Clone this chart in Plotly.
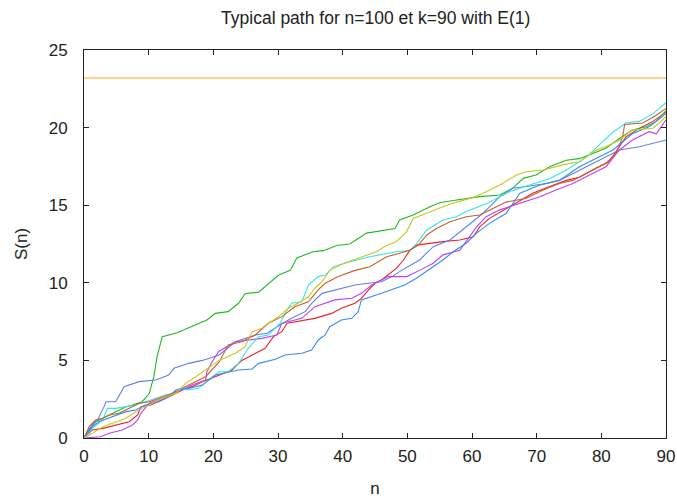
import plotly.graph_objects as go

# ---- data ----
red_x = [0, 1.3, 2.9, 4.9, 7, 8.3, 8.8, 10.3, 12.1, 13.7, 15.2, 16.7, 18.3, 20.3, 22.9, 24.4, 26, 28, 29.3, 30.6, 31.4, 33.1, 35.7, 38.3, 39.8, 41.9, 42.9, 44, 45, 46, 47, 48.3, 49.4, 50.4, 51.4, 53.5, 55.5, 58.1, 60.2, 61.2, 62.7, 65.8, 67.4, 69.4, 72, 74.6, 76.6, 79.2, 81.2, 82.8, 83.8, 85.9, 88, 90]
red_y = [0, 0.52, 0.62, 0.84, 1.05, 1.48, 2.02, 2.13, 2.45, 2.77, 3.09, 3.31, 3.63, 3.95, 4.38, 5.0, 5.35, 5.78, 6.53, 6.85, 7.39, 7.5, 7.71, 8.03, 8.36, 8.68, 9.0, 9.54, 9.97, 10.18, 10.5, 10.93, 11.47, 12.1, 12.43, 12.55, 12.65, 12.76, 12.97, 13.6, 14.15, 14.9, 15.3, 15.77, 16.2, 16.6, 16.8, 17.4, 17.8, 18.77, 19.4, 19.96, 20.4, 21.0]

green_x = [0, 0.8, 1.8, 2.9, 4.9, 6.5, 7.5, 9, 10.1, 10.8, 11.3, 11.9, 12.1, 14.4, 19, 20.3, 22.3, 23.9, 24.9, 27, 29, 30.1, 31.9, 32.9, 35.4, 37, 39.1, 41.1, 43.7, 48.1, 48.8, 50.9, 53.5, 55, 57.6, 61.2, 64.3, 66.3, 67.9, 69.9, 72, 74.6, 76.6, 78.7, 80.7, 82.8, 84.8, 86.9, 88.5, 90]
green_y = [0, 0.52, 1.05, 1.27, 1.7, 2.02, 2.13, 2.34, 2.88, 3.95, 5.24, 6.3, 6.53, 6.78, 7.6, 8.03, 8.14, 8.68, 9.3, 9.4, 10.07, 10.5, 10.8, 11.6, 12.0, 12.07, 12.4, 12.5, 13.2, 13.5, 14.05, 14.37, 14.9, 15.16, 15.33, 15.55, 15.66, 16.09, 16.73, 16.95, 17.48, 17.9, 18.0, 18.35, 18.67, 19.3, 19.85, 20.06, 20.4, 21.1]

blue_x = [0, 0.5, 1.3, 2.1, 3.1, 3.4, 4.9, 6.2, 8.5, 11.1, 13.1, 13.9, 16.2, 18.3, 20.9, 23.4, 26.5, 28.3, 30.3, 32.1, 34.2, 35.2, 36.8, 38.8, 41.9, 43.9, 46, 47.6, 49.1, 51.9, 54, 56.6, 59.1, 61.7, 64.3, 66.3, 68.4, 71.5, 73.5, 76.6, 79.7, 82.8, 85.9, 88, 90]
blue_y = [0, 0.41, 0.84, 1.16, 2.02, 2.34, 2.34, 3.31, 3.63, 3.74, 4.06, 4.49, 4.81, 5.0, 5.35, 6.2, 6.64, 6.75, 7.28, 7.71, 8.14, 8.68, 9.32, 9.54, 9.86, 9.97, 10.07, 10.4, 10.8, 11.47, 12.33, 12.76, 13.6, 14.48, 15.55, 16.09, 16.2, 16.4, 16.6, 17.27, 17.9, 18.56, 18.77, 19.0, 19.2]

magenta_x = [0, 2.6, 3.9, 5.9, 7.5, 8.3, 8.8, 10.1, 12.1, 13.7, 15.2, 16.7, 18.8, 19.0, 19.8, 20.8, 23.4, 25.4, 27.5, 29.8, 30.6, 33.7, 35.7, 38.8, 41.4, 42.9, 44.5, 47, 49.9, 51.9, 54, 55.5, 58.1, 60.7, 62.2, 64.3, 67.4, 70.5, 73, 75.6, 78.7, 80.7, 82.8, 84.8, 87.4, 88.5, 90]
magenta_y = [0, 0.08, 0.3, 0.52, 0.84, 1.16, 1.59, 2.24, 2.56, 2.88, 3.09, 3.41, 3.74, 4.27, 4.9, 5.56, 6.2, 6.3, 6.42, 6.64, 7.39, 7.71, 8.46, 8.9, 9.0, 9.32, 9.86, 10.4, 10.4, 10.8, 11.26, 11.8, 12.1, 13.6, 14.26, 14.7, 15.1, 15.55, 15.98, 16.4, 17.06, 17.48, 18.56, 19.2, 19.74, 19.6, 20.5]

cyan_x = [0, 1.3, 2.9, 3.6, 4.9, 6.5, 8, 9.5, 11.1, 12.6, 14.2, 14.7, 16.2, 17.7, 19.3, 20.9, 22.3, 23.9, 25.4, 27, 28.5, 30.3, 31.4, 32.1, 33.7, 34.7, 36.2, 37.3, 38.6, 41.1, 44.2, 48.3, 50.4, 51.4, 53, 55.5, 57.6, 59.1, 62.2, 65.8, 68.9, 72, 74.6, 77.7, 80.2, 81.8, 83.8, 85.9, 88, 90]
cyan_y = [0, 0.62, 1.16, 1.91, 1.91, 2.02, 2.13, 2.34, 2.56, 2.77, 2.88, 3.2, 3.09, 3.2, 3.74, 4.27, 4.27, 4.81, 5.78, 6.53, 6.64, 7.39, 8.25, 8.68, 8.78, 9.86, 10.4, 10.5, 11.04, 11.36, 11.68, 12.0, 12.1, 12.5, 13.4, 14.05, 14.26, 14.6, 15.1, 15.87, 16.3, 16.7, 17.27, 18.1, 19.1, 19.7, 20.3, 20.4, 20.9, 21.6]

sienna_x = [0, 0.8, 1.8, 2.9, 3.9, 5.4, 7, 8.5, 10.1, 12.1, 13.7, 15.2, 17.3, 18.8, 20.9, 22.3, 24.4, 26.5, 28.5, 30.6, 32.6, 34.7, 36.2, 37.3, 39.3, 41.9, 44.2, 46.8, 48.8, 50.4, 51.7, 53, 54.5, 56.6, 59.1, 61.2, 63.8, 65.3, 68.4, 71, 73.5, 75.6, 78.2, 80.7, 82.3, 83.3, 83.6, 86.4, 88.5, 90]
sienna_y = [0, 0.73, 1.16, 1.27, 1.48, 1.59, 1.91, 2.24, 2.34, 2.66, 2.88, 3.2, 3.63, 3.95, 4.9, 5.99, 6.2, 6.64, 7.39, 7.82, 8.46, 8.78, 9.54, 9.97, 10.4, 10.8, 11.04, 11.68, 11.9, 12.1, 12.43, 13.08, 13.5, 13.94, 14.26, 14.37, 14.9, 15.2, 15.45, 15.98, 16.4, 16.6, 17.16, 17.7, 18.35, 19.4, 20.2, 20.3, 20.8, 21.24]

yellow_x = [0, 1.3, 2.9, 4.9, 6.5, 8, 10.1, 12.1, 14.2, 15.7, 17.3, 18.8, 20.9, 23.4, 24.9, 26, 27.5, 28.5, 30.1, 31.6, 33.1, 34.7, 35.7, 36.8, 38, 40.1, 43.2, 45.2, 46.8, 48.3, 49.9, 50.9, 53, 55.5, 57.6, 60.2, 62.2, 64.3, 66.9, 68.4, 71, 74, 76.6, 79.2, 80.7, 82.8, 84.8, 88, 90]
yellow_y = [0, 0.3, 0.73, 1.05, 1.27, 1.7, 2.13, 2.56, 2.88, 3.52, 3.95, 4.38, 5.0, 5.46, 5.88, 6.85, 7.07, 7.39, 7.82, 8.36, 8.68, 9.1, 9.65, 10.07, 10.8, 11.25, 11.7, 12.0, 12.4, 12.65, 13.3, 14.15, 14.48, 14.9, 15.2, 15.5, 15.87, 16.3, 16.95, 17.16, 17.27, 17.6, 17.8, 18.56, 18.77, 19.2, 19.85, 19.96, 20.7]

dodger_x = [0, 1.3, 2.3, 4.9, 6.5, 8, 9.5, 11.6, 13.1, 14.2, 16.2, 18.3, 20.3, 23.9, 26, 27, 29.6, 31.1, 33.7, 35.2, 36.2, 37.3, 38, 39.8, 41.4, 42.4, 42.9, 46, 49.6, 51.4, 54, 55.5, 57.1, 59.1, 60.7, 62.7, 65.3, 67.4, 70.5, 73.5, 76.6, 79.2, 81.8, 84.8, 87.4, 90]
dodger_y = [0, 0.73, 1.05, 1.48, 1.7, 1.8, 2.13, 2.34, 2.66, 3.09, 3.2, 3.41, 4.06, 4.38, 4.45, 4.81, 5.07, 5.35, 5.46, 5.67, 6.3, 6.64, 7.17, 7.6, 7.71, 8.14, 8.9, 9.32, 9.86, 10.29, 11.04, 11.47, 12.0, 12.55, 13.2, 13.83, 14.48, 15.77, 16.3, 16.6, 17.48, 18.0, 18.56, 19.6, 20.06, 20.9]

level_x = [0, 90]
level_y = [23.2, 23.2]

x_ticks = [0, 10, 20, 30, 40, 50, 60, 70, 80, 90]
y_ticks = [0, 5, 10, 15, 20, 25]

series = [
    (red_x, red_y, "#f02020"),
    (green_x, green_y, "#22b822"),
    (blue_x, blue_y, "#6080e8"),
    (magenta_x, magenta_y, "#c040f5"),
    (cyan_x, cyan_y, "#30e6ee"),
    (sienna_x, sienna_y, "#c8602c"),
    (level_x, level_y, "#ffa820"),
    (dodger_x, dodger_y, "#3a8af5"),
    (yellow_x, yellow_y, "#c8c820"),
]

fig = go.Figure()
for xs, ys, col in series:
    fig.add_trace(go.Scatter(x=xs, y=ys, mode="lines",
                             line=dict(color=col, width=1.1),
                             showlegend=False, hoverinfo="skip"))

font_family = "Liberation Sans, Arial, sans-serif"
fig.update_layout(
    width=677, height=498,
    margin=dict(l=84, r=11, t=50, b=60, autoexpand=False),
    paper_bgcolor="white", plot_bgcolor="white",
    title=dict(text="Typical path for n=100 et k=90 with E(1)",
               x=0.555, xanchor="center", y=0.964, yanchor="middle",
               font=dict(family=font_family, size=17.5, color="#222222")),
    font=dict(family=font_family, size=17, color="#222222"),
    xaxis=dict(range=[0, 90], tickvals=x_ticks, ticks="inside", ticklen=5,
               tickcolor="#222222", showline=True, linecolor="#222222",
               linewidth=1, mirror="ticks", showgrid=False, zeroline=False,
               automargin=False, ticklabelstandoff=3,
               title=dict(text="n", standoff=20, font=dict(size=17))),
    yaxis=dict(range=[0, 25], tickvals=y_ticks, ticks="inside", ticklen=5,
               tickcolor="#222222", showline=True, linecolor="#222222",
               linewidth=1, mirror="ticks", showgrid=False, zeroline=False,
               automargin=False, ticklabelstandoff=12,
               title=dict(text="S(n)", standoff=16, font=dict(size=17))),
)

fig.write_html("out.html")
